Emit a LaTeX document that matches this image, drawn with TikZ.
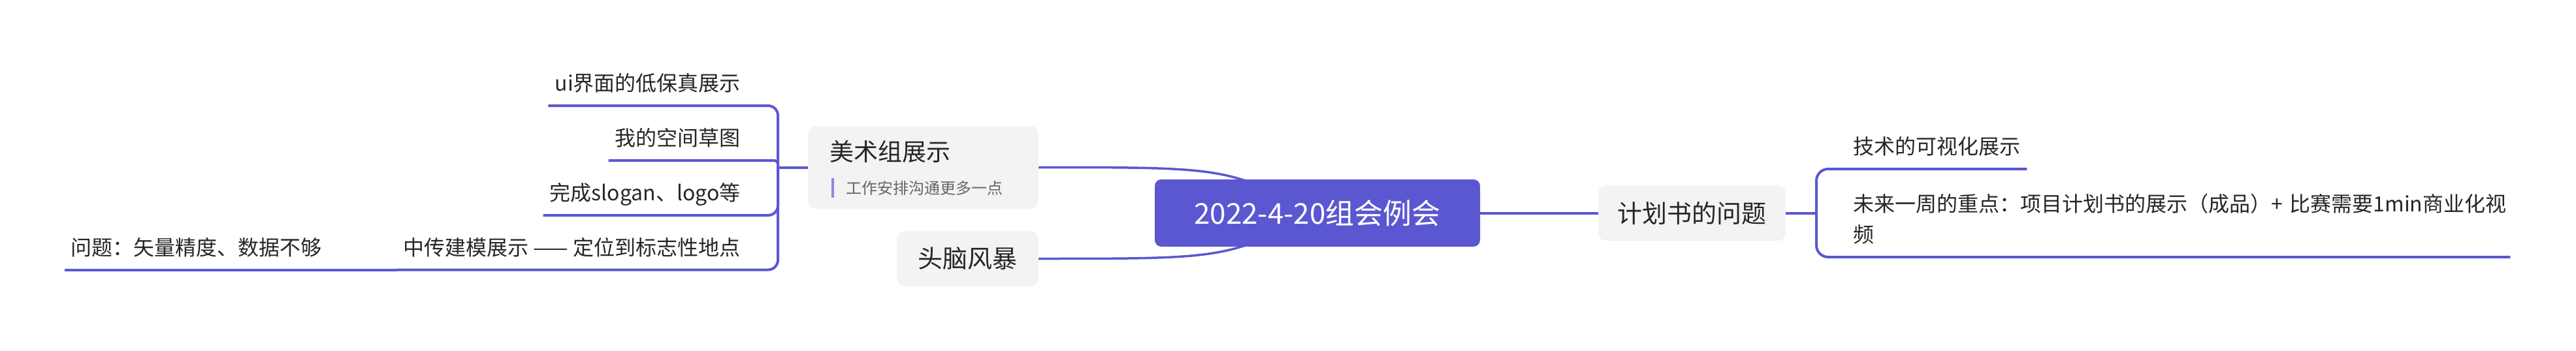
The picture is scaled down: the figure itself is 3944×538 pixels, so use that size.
\documentclass[tikz,border=0pt]{standalone}
\usepackage{fontspec}
\setmainfont{Noto Sans CJK SC}
\usetikzlibrary{calc,backgrounds}

\definecolor{mainpurple}{HTML}{5B57D1}
\definecolor{boxgray}{HTML}{F3F3F3}
\definecolor{notegray}{HTML}{666666}
\definecolor{notebarcol}{HTML}{8C89E4}
\definecolor{inkdark}{HTML}{262626}

\tikzset{
    branch/.style={draw=mainpurple, line width=4pt},
    rootnode/.style={fill=mainpurple, text=white, rounded corners=10pt,
        minimum width=498pt, minimum height=103pt, inner sep=0pt,
        font=\fontsize{44}{52}\selectfont},
    topicbox/.style={fill=boxgray, text=inkdark, rounded corners=12pt,
        inner sep=0pt, font=\fontsize{38}{46}\selectfont},
    topictitle/.style={text=inkdark, inner sep=0pt, font=\fontsize{37}{44}\selectfont},
    note/.style={text=notegray, inner xsep=20pt, inner ysep=0pt,
        minimum height=30pt, font=\fontsize{24}{30}\selectfont},
    notebar/.style={draw=notebarcol, line width=4pt},
    leaf/.style={text=inkdark, inner xsep=10pt, inner ysep=0pt,
        text depth=22pt, font=\fontsize{32}{40}\selectfont},
}

\begin{document}
\begin{tikzpicture}[x=1pt, y=-1pt]
    \useasboundingbox (0,0) rectangle (3944,538);
    %% central topic
    \node[rootnode] (root) at (2017,326.5) {2022-4-20组会例会};
    %% main topics
    \node[topicbox, minimum width=353pt, minimum height=126pt] (art) at (1413.5,256.5) {};
    \node[topictitle, anchor=west] (artTitle) at (1270,232) {美术组展示};
    \node[note, anchor=west] (artNote) at (1275,288) {工作安排沟通更多一点};
    \draw[notebar] (artNote.north west) -- (artNote.south west);
    \node[topicbox, minimum width=217pt, minimum height=84pt] (storm) at (1481.5,396.5) {头脑风暴};
    \node[topicbox, minimum width=287pt, minimum height=85pt] (plan) at (2590.5,326.5) {计划书的问题};
    %% curves to the central topic
    \begin{pgfonlayer}{background}
        \foreach \name in {art,storm}
            \draw[branch, line width=3.5pt] (\name.east) .. controls ($(\name.east -| root.center)+(-140,0)$) .. (root.center);
    \end{pgfonlayer}
    \draw[branch] (root.east) -- (plan.west);
    %% left subtopics
    \coordinate (artJoint) at (1191,256.5);
    \draw[branch] (art.west) -- (artJoint);
    \foreach \name/\y/\rad/\txt in {ui/162/15/ui界面的低保真展示,
                                    sketch/246/5/我的空间草图,
                                    slogan/330/15/完成slogan、logo等,
                                    model/413.5/15/中传建模展示 —— 定位到标志性地点} {
        \node[leaf, anchor=south east] (\name) at (1144,\y) {\txt};
        \draw[branch, rounded corners=\rad pt] (artJoint) |- (\name.south east) -- (\name.south west);
    }
    \node[leaf, anchor=south east] (issue) at (503,413.5) {问题：矢量精度、数据不够};
    \draw[branch] (model.south west) -- (issue.south west);
    %% right subtopics
    \coordinate (planJoint) at (2781,326.5);
    \draw[branch] (plan.east) -- (planJoint);
    \node[leaf, anchor=south west] (tech) at (2827,259) {技术的可视化展示};
    \node[leaf, anchor=south west, align=left, text width=996pt, text depth=69pt,
          font=\fontsize{32}{47}\selectfont] (week) at (2827,394)
        {未来一周的重点：项目计划书的展示（成品）+~比赛需要1min商业化视\\频};
    \foreach \name in {tech,week}
        \draw[branch, rounded corners=18pt] (planJoint) |- (\name.south west) -- (\name.south east);
\end{tikzpicture}
\end{document}
